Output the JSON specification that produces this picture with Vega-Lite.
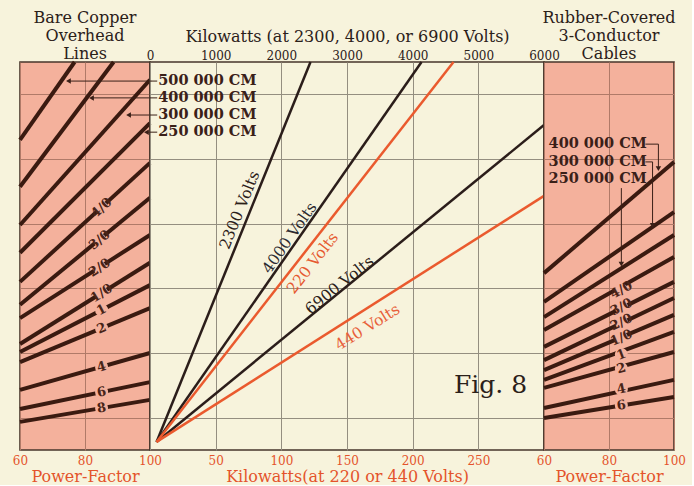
{
"$schema": "https://vega.github.io/schema/vega-lite/v6.json",
"background": "#f7f3dc",
"padding": {"left": 11, "top": 9, "right": 5, "bottom": 0},
"spacing": 0,
"bounds": "flush",
"config": {
  "view": {"stroke": "#47362b", "strokeWidth": 1.6},
  "axis": {"labelFont": "DejaVu Serif", "titleFont": "DejaVu Serif", "titleFontWeight": "normal", "domain": false, "ticks": false, "gridOpacity": 1, "gridWidth": 1, "labelFlush": false, "labelOverlap": false},
  "text": {"font": "DejaVu Serif"},
  "title": {"font": "DejaVu Serif", "fontSize": 16, "fontWeight": "normal", "color": "#2b2019", "lineHeight": 18, "offset": -8, "anchor": "middle"}
},
"datasets": {
  "leftLines": [
    {"s":"500000","pf":60,"y":9.59},{"s":"500000","pf":76.8,"y":12},
    {"s":"400000","pf":60,"y":8.14},{"s":"400000","pf":88.8,"y":12},
    {"s":"300000","pf":60,"y":6.96},{"s":"300000","pf":100,"y":11.45},
    {"s":"250000","pf":60,"y":6.1},{"s":"250000","pf":100,"y":10.11},
    {"s":"4/0","pf":60,"y":5.2},{"s":"4/0","pf":100,"y":8.88},
    {"s":"3/0","pf":60,"y":4.49},{"s":"3/0","pf":100,"y":7.8},
    {"s":"2/0","pf":60,"y":4.08},{"s":"2/0","pf":100,"y":6.65},
    {"s":"1/0","pf":60,"y":3.28},{"s":"1/0","pf":100,"y":5.79},
    {"s":"1","pf":60,"y":3.03},{"s":"1","pf":100,"y":5.1},
    {"s":"2","pf":60,"y":2.72},{"s":"2","pf":100,"y":4.39},
    {"s":"4","pf":60,"y":1.86},{"s":"4","pf":100,"y":3.0},
    {"s":"6","pf":60,"y":1.27},{"s":"6","pf":100,"y":2.1},
    {"s":"8","pf":60,"y":0.87},{"s":"8","pf":100,"y":1.55}
  ],
  "leftLabels": [
    {"t":"4/0","pf":85.1,"y":7.49},{"t":"3/0","pf":84.5,"y":6.5},{"t":"2/0","pf":84.5,"y":5.64},
    {"t":"1/0","pf":85.1,"y":4.85},{"t":"1","pf":85.1,"y":4.33},{"t":"2","pf":85.1,"y":3.76},
    {"t":"4","pf":85.1,"y":2.57},{"t":"6","pf":85.1,"y":1.79},{"t":"8","pf":85.1,"y":1.3}
  ],
  "leftLeaders": [
    {"t":"500 000 CM","tip":74.9,"y":11.41},{"t":"400 000 CM","tip":82,"y":10.89},
    {"t":"300 000 CM","tip":93.4,"y":10.36},{"t":"250 000 CM","tip":98.9,"y":9.83}
  ],
  "rightLines": [
    {"s":"400000","pf":60,"y":5.47},{"s":"400000","pf":100,"y":8.91},
    {"s":"300000","pf":60,"y":4.58},{"s":"300000","pf":100,"y":7.36},
    {"s":"250000","pf":60,"y":4.11},{"s":"250000","pf":100,"y":6.65},
    {"s":"4/0","pf":60,"y":3.71},{"s":"4/0","pf":100,"y":5.97},
    {"s":"3/0","pf":60,"y":3.19},{"s":"3/0","pf":100,"y":5.2},
    {"s":"2/0","pf":60,"y":2.78},{"s":"2/0","pf":100,"y":4.7},
    {"s":"1/0","pf":60,"y":2.47},{"s":"1/0","pf":100,"y":4.18},
    {"s":"1","pf":60,"y":2.17},{"s":"1","pf":100,"y":3.65},
    {"s":"2","pf":60,"y":1.92},{"s":"2","pf":100,"y":3.03},
    {"s":"4","pf":60,"y":1.3},{"s":"4","pf":100,"y":2.17},
    {"s":"6","pf":60,"y":0.99},{"s":"6","pf":100,"y":1.64}
  ],
  "rightLabels": [
    {"t":"4/0","pf":83.8,"y":4.95},{"t":"3/0","pf":83.8,"y":4.42},{"t":"2/0","pf":83.8,"y":3.95},
    {"t":"1/0","pf":83.8,"y":3.47},{"t":"1","pf":83.8,"y":2.95},{"t":"2","pf":83.8,"y":2.52},
    {"t":"4","pf":83.8,"y":1.88},{"t":"6","pf":83.8,"y":1.38}
  ],
  "rightCM": [
    {"t":"400 000 CM","pf":61.4,"y":9.46},{"t":"300 000 CM","pf":61.4,"y":8.91},{"t":"250 000 CM","pf":61.4,"y":8.38}
  ],
  "rightLeaders": [
    {"t":"400k","o":1,"pf":91.2,"y":9.46},{"t":"400k","o":2,"pf":95.2,"y":9.46},{"t":"400k","o":3,"pf":95.2,"y":8.7},
    {"t":"300k","o":1,"pf":91.2,"y":8.91},{"t":"300k","o":2,"pf":93.4,"y":8.91},{"t":"300k","o":3,"pf":93.4,"y":6.95},
    {"t":"250k","o":1,"pf":83.8,"y":8.1},{"t":"250k","o":2,"pf":83.8,"y":5.75}
  ],
  "rightTips": [
    {"pf":95.2,"y":8.7},{"pf":93.4,"y":6.95},{"pf":83.8,"y":5.75}
  ],
  "mid": [
    {"v":"2300","kw":100,"y":0.25},{"v":"2300","kw":2444,"y":12},
    {"v":"4000","kw":100,"y":0.25},{"v":"4000","kw":4135,"y":12},
    {"v":"6900","kw":100,"y":0.25},{"v":"6900","kw":6000,"y":10.05},
    {"v":"220","kw":100,"y":0.25},{"v":"220","kw":4622,"y":12},
    {"v":"440","kw":100,"y":0.25},{"v":"440","kw":6000,"y":7.86}
  ],
  "midLabels": [
    {"t":"2300 Volts","kw":1363,"y":7.42},{"t":"4000 Volts","kw":2124,"y":6.56},
    {"t":"220 Volts","kw":2475,"y":5.78},{"t":"6900 Volts","kw":2887,"y":5.1},
    {"t":"440 Volts","kw":3313,"y":3.8}
  ],
  "fig": [{"t":"Fig. 8","kw":5185,"y":2.0}]
},
"hconcat": [
 {
  "width": 130, "height": 388,
  "view": {"fill": "#f4b19c"},
  "title": {"text": ["Bare Copper", "Overhead", "Lines"]},
  "layer": [
    {"data": {"name": "leftLines"}, "mark": {"type": "line", "color": "#3a1a10", "strokeWidth": 4},
     "encoding": {
       "x": {"field": "pf", "type": "quantitative", "scale": {"domain": [60, 100], "nice": false, "zero": false},
             "axis": {"orient": "bottom", "values": [60,70,80,90,100], "labelOverlap": false, "labelFlush": false, "grid": true, "gridColor": "#b07a68", "labelColor": "#e4532b", "labelFontSize": 12, "labelPadding": 5, "title": "Power-Factor", "titleColor": "#e4532b", "titleFontSize": 16, "titlePadding": 2}},
       "y": {"field": "y", "type": "quantitative", "scale": {"domain": [0, 12], "nice": false},
             "axis": {"values": [1,2,3,4,5,6,7,8,9,10,11], "grid": true, "gridColor": "#b07a68", "labels": false, "title": null}},
       "detail": {"field": "s"}
     }},
    {"data": {"name": "leftLeaders"}, "mark": {"type": "rule", "color": "#3a2018", "strokeWidth": 1},
     "encoding": {"x": {"field": "tip", "type": "quantitative"}, "x2": {"datum": 100}, "y": {"field": "y", "type": "quantitative"}}},
    {"data": {"name": "leftLeaders"}, "mark": {"type": "point", "shape": "triangle-left", "filled": true, "color": "#3a2018", "size": 30, "opacity": 1},
     "encoding": {"x": {"field": "tip", "type": "quantitative"}, "y": {"field": "y", "type": "quantitative"}}},
    {"data": {"name": "leftLabels"}, "mark": {"type": "point", "shape": "circle", "filled": true, "color": "#f4b19c", "size": 170, "opacity": 1},
     "encoding": {"x": {"field": "pf", "type": "quantitative"}, "y": {"field": "y", "type": "quantitative"}}},
    {"data": {"name": "leftLabels"}, "transform": [{"filter": "datum.t === '4/0'"}], "mark": {"type": "text", "angle": -42.5, "fontSize": 13, "fontWeight": "bold", "color": "#4a2418"},
     "encoding": {"x": {"field": "pf", "type": "quantitative"}, "y": {"field": "y", "type": "quantitative"}, "text": {"field": "t"}}},
    {"data": {"name": "leftLabels"}, "transform": [{"filter": "datum.t === '3/0'"}], "mark": {"type": "text", "angle": -39.5, "fontSize": 13, "fontWeight": "bold", "color": "#4a2418"},
     "encoding": {"x": {"field": "pf", "type": "quantitative"}, "y": {"field": "y", "type": "quantitative"}, "text": {"field": "t"}}},
    {"data": {"name": "leftLabels"}, "transform": [{"filter": "datum.t === '2/0'"}], "mark": {"type": "text", "angle": -33, "fontSize": 13, "fontWeight": "bold", "color": "#4a2418"},
     "encoding": {"x": {"field": "pf", "type": "quantitative"}, "y": {"field": "y", "type": "quantitative"}, "text": {"field": "t"}}},
    {"data": {"name": "leftLabels"}, "transform": [{"filter": "datum.t === '1/0'"}], "mark": {"type": "text", "angle": -32, "fontSize": 13, "fontWeight": "bold", "color": "#4a2418"},
     "encoding": {"x": {"field": "pf", "type": "quantitative"}, "y": {"field": "y", "type": "quantitative"}, "text": {"field": "t"}}},
    {"data": {"name": "leftLabels"}, "transform": [{"filter": "datum.t === '1'"}], "mark": {"type": "text", "angle": -27, "fontSize": 13, "fontWeight": "bold", "color": "#4a2418"},
     "encoding": {"x": {"field": "pf", "type": "quantitative"}, "y": {"field": "y", "type": "quantitative"}, "text": {"field": "t"}}},
    {"data": {"name": "leftLabels"}, "transform": [{"filter": "datum.t === '2'"}], "mark": {"type": "text", "angle": -22.5, "fontSize": 13, "fontWeight": "bold", "color": "#4a2418"},
     "encoding": {"x": {"field": "pf", "type": "quantitative"}, "y": {"field": "y", "type": "quantitative"}, "text": {"field": "t"}}},
    {"data": {"name": "leftLabels"}, "transform": [{"filter": "datum.t === '4'"}], "mark": {"type": "text", "angle": -16, "fontSize": 13, "fontWeight": "bold", "color": "#4a2418"},
     "encoding": {"x": {"field": "pf", "type": "quantitative"}, "y": {"field": "y", "type": "quantitative"}, "text": {"field": "t"}}},
    {"data": {"name": "leftLabels"}, "transform": [{"filter": "datum.t === '6'"}], "mark": {"type": "text", "angle": -12, "fontSize": 13, "fontWeight": "bold", "color": "#4a2418"},
     "encoding": {"x": {"field": "pf", "type": "quantitative"}, "y": {"field": "y", "type": "quantitative"}, "text": {"field": "t"}}},
    {"data": {"name": "leftLabels"}, "transform": [{"filter": "datum.t === '8'"}], "mark": {"type": "text", "angle": -9.6, "fontSize": 13, "fontWeight": "bold", "color": "#4a2418"},
     "encoding": {"x": {"field": "pf", "type": "quantitative"}, "y": {"field": "y", "type": "quantitative"}, "text": {"field": "t"}}}
  ]
 },
 {
  "width": 394, "height": 388,
  "resolve": {"axis": {"x": "independent"}},
  "layer": [
    {"layer": [
      {"data": {"name": "mid"}, "mark": {"type": "line", "strokeWidth": 2.5},
       "encoding": {
         "x": {"field": "kw", "type": "quantitative", "scale": {"domain": [0, 6000], "nice": false, "zero": false},
               "axis": {"orient": "top", "values": [0,500,1000,1500,2000,2500,3000,3500,4000,4500,5000,5500,6000], "format": "d", "labelExpr": "datum.value % 1000 === 0 ? datum.label : ''", "labelOverlap": false, "labelFlush": false, "grid": true, "gridColor": "#948e80", "labelColor": "#2b2019", "labelFontSize": 12, "labelPadding": 0, "title": "Kilowatts (at 2300, 4000, or 6900 Volts)", "titleColor": "#2b2019", "titleFontSize": 16, "titlePadding": 5}},
         "y": {"field": "y", "type": "quantitative", "scale": {"domain": [0, 12], "nice": false},
               "axis": {"values": [1,2,3,4,5,6,7,8,9,10,11], "grid": true, "gridColor": "#948e80", "labels": false, "title": null}},
         "color": {"field": "v", "type": "nominal", "scale": {"domain": ["2300","4000","6900","220","440"], "range": ["#2b1d1a","#2b1d1a","#2b1d1a","#ea5a2e","#ea5a2e"]}, "legend": null}
       }},
      {"data": {"name": "leftLeaders"}, "mark": {"type": "rule", "color": "#3a2018", "strokeWidth": 1},
       "encoding": {"x": {"datum": 0, "type": "quantitative"}, "x2": {"datum": 110}, "y": {"field": "y", "type": "quantitative"}}},
      {"data": {"name": "leftLeaders"}, "mark": {"type": "text", "align": "left", "fontSize": 14.5, "fontWeight": "bold", "color": "#3a2018"},
       "encoding": {"x": {"datum": 125, "type": "quantitative"}, "y": {"field": "y", "type": "quantitative"}, "text": {"field": "t"}}},
      {"data": {"name": "midLabels"}, "transform": [{"filter": "datum.t === '2300 Volts'"}], "mark": {"type": "text", "angle": -68, "fontSize": 15.5, "color": "#2b2019"},
       "encoding": {"x": {"field": "kw", "type": "quantitative"}, "y": {"field": "y", "type": "quantitative"}, "text": {"field": "t"}}},
      {"data": {"name": "midLabels"}, "transform": [{"filter": "datum.t === '4000 Volts'"}], "mark": {"type": "text", "angle": -55, "fontSize": 15.5, "color": "#2b2a30"},
       "encoding": {"x": {"field": "kw", "type": "quantitative"}, "y": {"field": "y", "type": "quantitative"}, "text": {"field": "t"}}},
      {"data": {"name": "midLabels"}, "transform": [{"filter": "datum.t === '220 Volts'"}], "mark": {"type": "text", "angle": -52, "fontSize": 15.5, "color": "#e65a30"},
       "encoding": {"x": {"field": "kw", "type": "quantitative"}, "y": {"field": "y", "type": "quantitative"}, "text": {"field": "t"}}},
      {"data": {"name": "midLabels"}, "transform": [{"filter": "datum.t === '6900 Volts'"}], "mark": {"type": "text", "angle": -39, "fontSize": 15.5, "color": "#2b2019"},
       "encoding": {"x": {"field": "kw", "type": "quantitative"}, "y": {"field": "y", "type": "quantitative"}, "text": {"field": "t"}}},
      {"data": {"name": "midLabels"}, "transform": [{"filter": "datum.t === '440 Volts'"}], "mark": {"type": "text", "angle": -32, "fontSize": 15.5, "color": "#e8603a"},
       "encoding": {"x": {"field": "kw", "type": "quantitative"}, "y": {"field": "y", "type": "quantitative"}, "text": {"field": "t"}}},
      {"data": {"name": "fig"}, "mark": {"type": "text", "fontSize": 25, "color": "#2b2019"},
       "encoding": {"x": {"field": "kw", "type": "quantitative"}, "y": {"field": "y", "type": "quantitative"}, "text": {"field": "t"}}}
    ]},
    {"data": {"name": "mid"}, "mark": {"type": "point", "opacity": 0},
     "encoding": {
       "x": {"field": "kw", "type": "quantitative",
             "axis": {"orient": "bottom", "values": [1000,2000,3000,4000,5000], "labelExpr": "format(datum.value / 20, 'd')", "labelOverlap": false, "labelFlush": false, "grid": false, "labelColor": "#e4532b", "labelFontSize": 12, "labelPadding": 5, "title": "Kilowatts(at 220 or 440 Volts)", "titleColor": "#e4532b", "titleFontSize": 16, "titlePadding": 2}},
       "y": {"field": "y", "type": "quantitative"}
     }}
  ]
 },
 {
  "width": 130, "height": 388,
  "view": {"fill": "#f4b19c"},
  "title": {"text": ["Rubber-Covered", "3-Conductor", "Cables"], "offset": 0},
  "layer": [
    {"data": {"name": "rightLines"}, "mark": {"type": "line", "color": "#3a1a10", "strokeWidth": 4},
     "encoding": {
       "x": {"field": "pf", "type": "quantitative", "scale": {"domain": [60, 100], "nice": false, "zero": false},
             "axis": {"orient": "bottom", "values": [60,70,80,90,100], "labelOverlap": false, "labelFlush": false, "grid": true, "gridColor": "#b07a68", "labelColor": "#e4532b", "labelFontSize": 12, "labelPadding": 5, "title": "Power-Factor", "titleColor": "#e4532b", "titleFontSize": 16, "titlePadding": 2}},
       "y": {"field": "y", "type": "quantitative", "scale": {"domain": [0, 12], "nice": false},
             "axis": {"values": [1,2,3,4,5,6,7,8,9,10,11], "grid": true, "gridColor": "#b07a68", "labels": false, "title": null}},
       "detail": {"field": "s"}
     }},
    {"data": {"name": "rightLeaders"}, "mark": {"type": "line", "color": "#3a2018", "strokeWidth": 1},
     "encoding": {"x": {"field": "pf", "type": "quantitative"}, "y": {"field": "y", "type": "quantitative"}, "detail": {"field": "t"}, "order": {"field": "o"}}},
    {"data": {"name": "rightTips"}, "mark": {"type": "point", "shape": "triangle-down", "filled": true, "color": "#3a2018", "size": 30, "opacity": 1},
     "encoding": {"x": {"field": "pf", "type": "quantitative"}, "y": {"field": "y", "type": "quantitative"}}},
    {"data": {"name": "rightCM"}, "mark": {"type": "text", "align": "left", "fontSize": 14.5, "fontWeight": "bold", "color": "#3a2018"},
     "encoding": {"x": {"field": "pf", "type": "quantitative"}, "y": {"field": "y", "type": "quantitative"}, "text": {"field": "t"}}},
    {"data": {"name": "rightLabels"}, "mark": {"type": "point", "shape": "circle", "filled": true, "color": "#f4b19c", "size": 170, "opacity": 1},
     "encoding": {"x": {"field": "pf", "type": "quantitative"}, "y": {"field": "y", "type": "quantitative"}}},
    {"data": {"name": "rightLabels"}, "transform": [{"filter": "datum.t === '4/0'"}], "mark": {"type": "text", "angle": -29.3, "fontSize": 13, "fontWeight": "bold", "color": "#4a2418"},
     "encoding": {"x": {"field": "pf", "type": "quantitative"}, "y": {"field": "y", "type": "quantitative"}, "text": {"field": "t"}}},
    {"data": {"name": "rightLabels"}, "transform": [{"filter": "datum.t === '3/0'"}], "mark": {"type": "text", "angle": -26.6, "fontSize": 13, "fontWeight": "bold", "color": "#4a2418"},
     "encoding": {"x": {"field": "pf", "type": "quantitative"}, "y": {"field": "y", "type": "quantitative"}, "text": {"field": "t"}}},
    {"data": {"name": "rightLabels"}, "transform": [{"filter": "datum.t === '2/0'"}], "mark": {"type": "text", "angle": -25.5, "fontSize": 13, "fontWeight": "bold", "color": "#4a2418"},
     "encoding": {"x": {"field": "pf", "type": "quantitative"}, "y": {"field": "y", "type": "quantitative"}, "text": {"field": "t"}}},
    {"data": {"name": "rightLabels"}, "transform": [{"filter": "datum.t === '1/0'"}], "mark": {"type": "text", "angle": -23, "fontSize": 13, "fontWeight": "bold", "color": "#4a2418"},
     "encoding": {"x": {"field": "pf", "type": "quantitative"}, "y": {"field": "y", "type": "quantitative"}, "text": {"field": "t"}}},
    {"data": {"name": "rightLabels"}, "transform": [{"filter": "datum.t === '1'"}], "mark": {"type": "text", "angle": -20, "fontSize": 13, "fontWeight": "bold", "color": "#4a2418"},
     "encoding": {"x": {"field": "pf", "type": "quantitative"}, "y": {"field": "y", "type": "quantitative"}, "text": {"field": "t"}}},
    {"data": {"name": "rightLabels"}, "transform": [{"filter": "datum.t === '2'"}], "mark": {"type": "text", "angle": -15.5, "fontSize": 13, "fontWeight": "bold", "color": "#4a2418"},
     "encoding": {"x": {"field": "pf", "type": "quantitative"}, "y": {"field": "y", "type": "quantitative"}, "text": {"field": "t"}}},
    {"data": {"name": "rightLabels"}, "transform": [{"filter": "datum.t === '4'"}], "mark": {"type": "text", "angle": -12, "fontSize": 13, "fontWeight": "bold", "color": "#4a2418"},
     "encoding": {"x": {"field": "pf", "type": "quantitative"}, "y": {"field": "y", "type": "quantitative"}, "text": {"field": "t"}}},
    {"data": {"name": "rightLabels"}, "transform": [{"filter": "datum.t === '6'"}], "mark": {"type": "text", "angle": -9.2, "fontSize": 13, "fontWeight": "bold", "color": "#4a2418"},
     "encoding": {"x": {"field": "pf", "type": "quantitative"}, "y": {"field": "y", "type": "quantitative"}, "text": {"field": "t"}}}
  ]
 }
]
}
